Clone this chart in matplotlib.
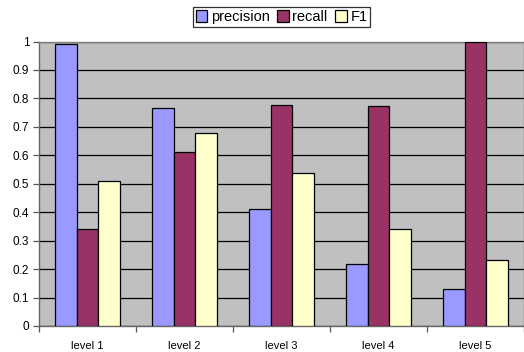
import matplotlib
matplotlib.use("Agg")
import matplotlib.pyplot as plt
import numpy as np

categories = ["level 1", "level 2", "level 3", "level 4", "level 5"]
precision = [0.99, 0.765, 0.412, 0.219, 0.129]
recall = [0.341, 0.611, 0.778, 0.772, 1.0]
f1 = [0.509, 0.680, 0.539, 0.341, 0.232]
series_names = ["precision", "recall", "F1"]
colors = ["#9999FF", "#993366", "#FFFFCC"]

plt.rcParams['font.family'] = ['Liberation Sans', 'DejaVu Sans']

W, H = 524, 352
fig = plt.figure(figsize=(W / 100, H / 100), dpi=100)
left, right, top, bottom = 39, 524, 41.5, 326
ax = fig.add_axes([left / W, 1 - bottom / H, (right - left) / W, (bottom - top) / H])
ax.set_facecolor("#C0C0C0")

x = np.arange(len(categories))
bw = 1 / 4.5
for i, (vals, name, c) in enumerate(zip([precision, recall, f1], series_names, colors)):
    ax.bar(x + (i - 1) * bw, vals, width=bw, color=c, edgecolor="black",
           linewidth=0.9, label=name, zorder=3)

ax.set_ylim(0, 1)
ax.set_yticks(np.arange(0, 1.01, 0.1))
ax.set_yticklabels(["0", "0.1", "0.2", "0.3", "0.4", "0.5", "0.6", "0.7", "0.8", "0.9", "1"])
ax.yaxis.grid(True, color="black", linewidth=0.9, zorder=1)
ax.set_axisbelow(True)

cat_w = 98.2
xmax = -0.5 + (right - left) / cat_w
ax.set_xlim(-0.5, xmax)
ax.set_xticks(np.arange(-0.5, 4.6, 1.0))
ax.set_xticklabels([])
ax.set_xticks(x, minor=True)
ax.set_xticklabels(categories, minor=True)
ax.tick_params(axis="x", which="minor", length=0, pad=11, labelsize=8)
ax.tick_params(axis="x", which="major", length=4, width=0.9, color="#555555", direction="out")
ax.tick_params(axis="y", length=4, width=0.9, color="#555555", labelsize=8.5, pad=3)

for s in ["top", "right"]:
    ax.spines[s].set_color("#808080")
    ax.spines[s].set_linewidth(1.0)
for s in ["left", "bottom"]:
    ax.spines[s].set_color("#666666")
    ax.spines[s].set_linewidth(1.0)

leg = fig.legend(loc="center", bbox_to_anchor=((191 + 372) / 2 / W, 1 - 17 / H),
                 ncol=3, fontsize=10.5, frameon=True, fancybox=False,
                 edgecolor="black", handlelength=0.8, handleheight=0.8,
                 handletextpad=0.25, columnspacing=0.5, borderpad=0.2,
                 borderaxespad=0)
leg.get_frame().set_linewidth(0.9)

fig.savefig("out.png", dpi=100)
